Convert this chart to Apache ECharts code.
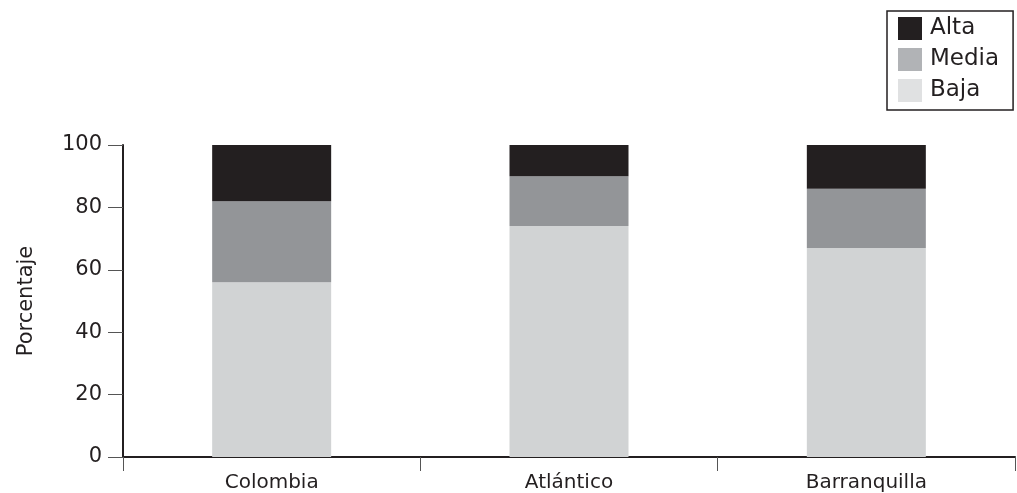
<!DOCTYPE html>
<html>
<head>
<meta charset="utf-8">
<script src="https://cdn.jsdelivr.net/npm/echarts@6/dist/echarts.min.js"></script>
<style>
html,body{margin:0;padding:0;background:#fff;}
#chart{width:1017px;height:493px;}
</style>
</head>
<body>
<div id="chart"></div>
<script>
var categories = ['Colombia', 'Atlántico', 'Barranquilla'];
var baja = [56, 74, 67];
var media = [26, 16, 19];
var alta = [18, 10, 14];
var yTicks = [0, 20, 40, 60, 80, 100];

var FONT = '"DejaVu Sans"';
var chart = echarts.init(document.getElementById('chart'), null, {renderer: 'canvas'});
var option = {
  animation: false,
  backgroundColor: '#ffffff',
  textStyle: {fontFamily: FONT},
  grid: {left: 123, right: 2, top: 145, bottom: 35, containLabel: false},
  legend: {
    orient: 'vertical',
    left: 887,
    top: 11,
    padding: [6, 14, 8, 11],
    itemWidth: 24,
    itemHeight: 23,
    itemGap: 8,
    borderColor: '#231f20',
    borderWidth: 1.5,
    icon: 'rect',
    textStyle: {fontFamily: FONT, fontSize: 23, color: '#231f20', padding: [0, 0, 0, 3]},
    data: [
      {name: 'Alta', itemStyle: {color: '#231f20'}},
      {name: 'Media', itemStyle: {color: '#b1b3b6'}},
      {name: 'Baja', itemStyle: {color: '#e0e1e2'}}
    ]
  },
  xAxis: {
    type: 'category',
    data: categories,
    boundaryGap: true,
    axisLine: {lineStyle: {color: '#231f20', width: 2}},
    axisTick: {show: true, length: 14, lineStyle: {color: '#555', width: 1}},
    axisLabel: {fontFamily: FONT, fontSize: 20, color: '#231f20', margin: 16}
  },
  yAxis: {
    type: 'value',
    min: yTicks[0],
    max: yTicks[yTicks.length - 1],
    interval: 20,
    name: 'Porcentaje',
    nameLocation: 'middle',
    nameRotate: 90,
    nameGap: 86,
    nameTextStyle: {fontFamily: FONT, fontSize: 21, color: '#231f20'},
    axisLine: {show: true, lineStyle: {color: '#231f20', width: 2}},
    axisTick: {show: true, length: 15, lineStyle: {color: '#555', width: 1}},
    axisLabel: {fontFamily: FONT, fontSize: 21, color: '#231f20', margin: 21},
    splitLine: {show: false}
  },
  series: [
    {name: 'Baja', type: 'bar', stack: 'total', data: baja, barWidth: 119, itemStyle: {color: '#d1d3d4'}},
    {name: 'Media', type: 'bar', stack: 'total', data: media, barWidth: 119, itemStyle: {color: '#939598'}},
    {name: 'Alta', type: 'bar', stack: 'total', data: alta, barWidth: 119, itemStyle: {color: '#231f20'}}
  ]
};
chart.setOption(option);
</script>
</body>
</html>
